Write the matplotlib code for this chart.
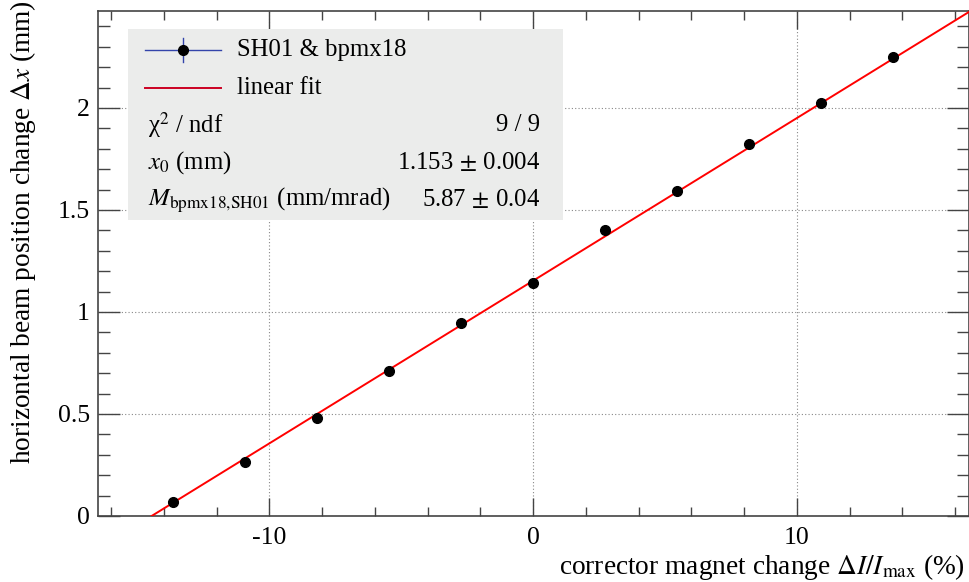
import numpy as np
import matplotlib
matplotlib.use("Agg")
import matplotlib.pyplot as plt
from matplotlib.patches import Rectangle
from matplotlib.lines import Line2D
from matplotlib.ticker import MultipleLocator

plt.rcParams['font.family'] = ['Liberation Serif', 'DejaVu Serif']
plt.rcParams['mathtext.fontset'] = 'stix'

# corrector scan: relative current change (%) vs horizontal beam shift (mm)
dI = [-13.66, -10.93, -8.20, -5.46, -2.73, 0.0, 2.73, 5.46, 8.20, 10.93, 13.66]
dx = [0.069, 0.265, 0.480, 0.710, 0.946, 1.142, 1.402, 1.593, 1.824, 2.025, 2.250]
dx_err = [0.004] * len(dx)

# linear fit result
x0 = 1.153
slope = 0.0797  # mm per %

fig = plt.figure(figsize=(9.69, 5.82), dpi=100)
ax = fig.add_axes([98 / 969, 1 - 516 / 582, 1.0005 - 98 / 969, (516 - 11) / 582])

ax.set_xlim(-16.5, 16.55)
ax.set_ylim(0, 2.475)

ax.xaxis.set_major_locator(MultipleLocator(10))
ax.xaxis.set_minor_locator(MultipleLocator(2))
ax.yaxis.set_major_locator(MultipleLocator(0.5))
ax.yaxis.set_minor_locator(MultipleLocator(0.1))
ax.set_yticks([0, 0.5, 1, 1.5, 2])
ax.set_yticklabels(['0', '0.5', '1', '1.5', '2'])
ax.set_xticks([-10, 0, 10])
ax.set_xticklabels(['-10', '0', '10'])

ax.grid(True, which='major', linestyle=(0, (1, 2)), color='#888888', linewidth=0.8)
ax.tick_params(axis='both', which='both', direction='in', top=True, right=True,
               color='#444444', labelsize=18.5)
ax.tick_params(axis='x', which='major', length=13, width=1, pad=8)
ax.tick_params(axis='x', which='minor', length=6.5, width=1)
ax.tick_params(axis='y', which='major', length=16, width=1, pad=6)
ax.tick_params(axis='y', which='minor', length=8.5, width=1)
for s in ax.spines.values():
    s.set_color('#444444')
    s.set_linewidth(1.2)

# fit line from the x-axis crossing to the right edge
xs = np.linspace(-x0 / slope, 16.55, 50)
ax.plot(xs, x0 + slope * xs, color='red', lw=1.4, zorder=3)

ax.errorbar(dI, dx, yerr=dx_err, fmt='o', color='black', ms=7,
            ecolor='#3344aa', elinewidth=1, capsize=0, zorder=4)

# axis titles, right/top aligned
fig.text(965 / 969, 1 - 567 / 582, r'corrector magnet change $\Delta I/I_{\rm max}$ (%)',
         ha='right', va='center', fontsize=19.7)
fig.text(23 / 969, 1.0, r'horizontal beam position change $\Delta x$ (mm)',
         ha='center', va='top', rotation=90, fontsize=19.7)

# legend box with fit statistics
def fx(px):
    return px / 969
def fy(py):
    return 1 - py / 582

fig.patches.append(Rectangle((fx(128), fy(220)), fx(563) - fx(128), fy(29) - fy(220),
                             transform=fig.transFigure, facecolor='#ebeceb',
                             edgecolor='none', zorder=5))
fs = 17.8
fig.lines.append(Line2D([fx(145), fx(221)], [fy(50), fy(50)], color='#3344aa', lw=1,
                        transform=fig.transFigure, zorder=6))
fig.lines.append(Line2D([fx(183), fx(183)], [fy(38), fy(62)], color='#3344aa', lw=1,
                        transform=fig.transFigure, zorder=6))
fig.lines.append(Line2D([fx(183)], [fy(50)], marker='o', ms=7, color='black',
                        transform=fig.transFigure, zorder=7))
fig.lines.append(Line2D([fx(145), fx(221)], [fy(88), fy(88)], color='#cc0022', lw=1.4,
                        transform=fig.transFigure, zorder=6))
fig.text(fx(237), fy(50), 'SH01 & bpmx18', fontsize=fs, va='center', zorder=8)
fig.text(fx(237), fy(88), 'linear fit', fontsize=fs, va='center', zorder=8)

rows = [
    (r'χ$^2$ / ndf', '9 / 9'),
    (r'$x_0$ (mm)', r'1.153$\,\pm\,$0.004'),
    (r'$M_{\rm bpmx18{,}SH01}$ (mm/mrad)', r'5.87$\,\pm\,$0.04'),
]
for i, (name, val) in enumerate(rows):
    y = fy(125 + 37.5 * i)
    fig.text(fx(148), y, name, fontsize=fs, va='center', zorder=8)
    fig.text(fx(540), y, val, fontsize=fs, va='center', ha='right', zorder=8)

fig.savefig('out.png', dpi=100)
